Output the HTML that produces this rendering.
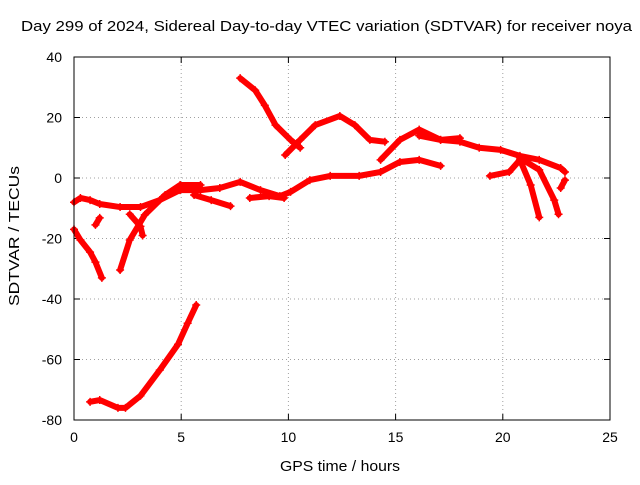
<!DOCTYPE html>
<html><head><meta charset="utf-8"><style>
body{margin:0;background:#fff;}
svg text{font-family:"Liberation Sans",sans-serif;font-size:14px;fill:#000;}
</style></head><body>
<svg width="640" height="480">
<rect width="640" height="480" fill="#fff"/>
<text x="21" y="31" textLength="611" lengthAdjust="spacingAndGlyphs" style="font-size:15px">Day 299 of 2024, Sidereal Day-to-day VTEC variation (SDTVAR) for receiver noya</text>
<g id="grid"></g>
<g id="axes"></g>
<g id="series"></g>
<rect x="74" y="57" width="536" height="363" fill="none" stroke="#000"/>
<text x="280" y="471" textLength="120" lengthAdjust="spacingAndGlyphs" style="font-size:15px">GPS time / hours</text>
<text x="0" y="0" textLength="140" lengthAdjust="spacingAndGlyphs" style="font-size:15px" transform="translate(19 306) rotate(-90)">SDTVAR / TECUs</text>
</svg>
<script>
const xTicks=[0,5,10,15,20,25];
const yTicks=[40,20,0,-20,-40,-60,-80];
const trackA=[[0.75,-74],[1.2,-73.4],[2.05,-76],[2.4,-76],[3.1,-72],[4,-63.5],[4.85,-55],[5.3,-48],[5.7,-42]];
const trackB=[[0,-17],[0.3,-20.5],[0.75,-24.5],[1.0,-27.8],[1.3,-33]];
const trackC=[[0,-8],[0.3,-6.6],[0.75,-7.3],[1.2,-8.6],[2.15,-9.6],[3.1,-9.6],[4,-7.3],[4.95,-4],[5.9,-4],[6.8,-3.3],[7.75,-1.3],[8.7,-4],[9.6,-6],[10.1,-4.6],[11,-0.7],[11.95,0.7],[13.3,0.7],[14.3,2],[15.2,5.3],[16.1,6],[17.1,4]];
const trackC2=[[16.1,14],[17.1,12.6],[18,12],[18.9,10],[19.9,9.3],[20.8,7.3],[21.7,6],[22.7,3.3],[22.9,2]];
const trackD=[[7.75,33],[8.45,29],[8.9,24],[9.4,17.5],[10.1,12.6],[10.55,10]];
const trackE=[[9.85,7.6],[10.55,12.6],[11.25,17.5],[12.4,20.5],[13.1,17.5],[13.8,12.6],[14.5,12]];
const trackF=[[14.3,6],[15.2,12.6],[16.1,16],[17.1,12.6],[18,13.2]];
const trackG=[[2.15,-30.4],[2.6,-20.5],[3.3,-12.2],[4.25,-5.6],[4.95,-2.3],[5.9,-2.3]];
const trackH=[[19.4,0.7],[20.3,2],[20.8,6],[21.3,-2.3],[21.7,-13]];
const trackI=[[20.8,6.6],[21.7,2.7],[22.4,-7.3],[22.6,-12]];
const trackJ=[[1.0,-15.5],[1.2,-13.2]];
const trackK=[[2.6,-12],[3.1,-16],[3.2,-19]];
const trackL=[[22.7,-3.3],[22.9,-0.7]];
const trackM=[[5.6,-5.6],[6.4,-7.3],[7.3,-9.3]];
const trackN=[[8.2,-6.6],[9.1,-6],[9.8,-6.6]];
const tracks=[trackA,trackB,trackC,trackC2,trackD,trackE,trackF,trackG,trackH,trackI,trackJ,trackK,trackL,trackM,trackN];
const NS='http://www.w3.org/2000/svg';
const X=v=>74+v*536/25;
const Y=v=>57+(40-v)*363/120;
function mk(t,a,p){const e=document.createElementNS(NS,t);for(const k in a)e.setAttribute(k,a[k]);p.appendChild(e);return e;}
const grid=document.getElementById('grid'),axes=document.getElementById('axes'),ser=document.getElementById('series');
xTicks.forEach(t=>{
 if(t>0&&t<25){const l=mk('line',{x1:X(t),x2:X(t),y1:57,y2:420,stroke:'#a0a0a0','stroke-dasharray':'1,3'},grid);
 }
 mk('line',{x1:X(t),x2:X(t),y1:420,y2:414,stroke:'#000'},axes);
 mk('line',{x1:X(t),x2:X(t),y1:57,y2:63,stroke:'#000'},axes);
 const tx=mk('text',{x:X(t),y:442,'text-anchor':'middle'},axes);tx.textContent=t;
 
});
yTicks.forEach(t=>{
 if(t<40&&t>-80){const l=mk('line',{x1:74,x2:610,y1:Y(t),y2:Y(t),stroke:'#a0a0a0','stroke-dasharray':'1,3'},grid);
 }
 mk('line',{x1:74,x2:80,y1:Y(t),y2:Y(t),stroke:'#000'},axes);
 mk('line',{x1:604,x2:610,y1:Y(t),y2:Y(t),stroke:'#000'},axes);
 const tx=mk('text',{x:62,y:Y(t)+5,'text-anchor':'end'},axes);tx.textContent=t;
 
});
tracks.forEach(tr=>{
 const pl=mk('polyline',{points:tr.map(p=>X(p[0])+','+Y(p[1])).join(' '),fill:'none',stroke:'#ff0000','stroke-width':6,'stroke-linejoin':'round','stroke-linecap':'round'},ser);
 
 
 tr.forEach(p=>{const x=X(p[0]),y=Y(p[1]);
  mk('path',{d:`M${x-4},${y}h8M${x},${y-4}v8`,stroke:'#ff0000','stroke-width':1.5},ser);});
});
</script>
</body></html>
